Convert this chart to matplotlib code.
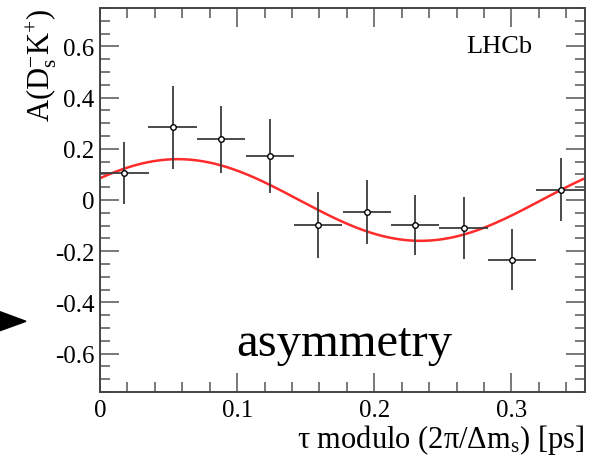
import numpy as np
import matplotlib
matplotlib.use("Agg")
import matplotlib.pyplot as plt
from matplotlib.patches import Polygon
from matplotlib.ticker import MultipleLocator

plt.rcParams['font.family'] = ['Liberation Serif', 'DejaVu Serif']
plt.rcParams['mathtext.fontset'] = 'custom'
plt.rcParams['mathtext.rm'] = 'Liberation Serif'
plt.rcParams['mathtext.it'] = 'Liberation Serif:italic'
plt.rcParams['axes.unicode_minus'] = False

# Folded decay-time asymmetry, 10 bins over one oscillation period
dm_s = 17.768                      # ps^-1
period = 2 * np.pi / dm_s          # ps
bin_centers = [0.0177, 0.0530, 0.0884, 0.1238, 0.1591,
               0.1945, 0.2298, 0.2652, 0.3005, 0.3359]
asym = [0.105, 0.285, 0.237, 0.171, -0.097,
        -0.048, -0.097, -0.110, -0.233, 0.040]
asym_err = [0.122, 0.162, 0.130, 0.145, 0.130,
            0.125, 0.117, 0.122, 0.120, 0.123]
bin_half_width = [period / 20] * 10

# Fit projection: A(t) = c_cos*cos(dm t) + c_sin*sin(dm t)
c_cos = 0.085
c_sin = 0.135

x_ticks = [0, 0.1, 0.2, 0.3]
x_ticklabels = ['0', '0.1', '0.2', '0.3']
y_ticks = [-0.6, -0.4, -0.2, 0, 0.2, 0.4, 0.6]
y_ticklabels = ['-0.6', '-0.4', '-0.2', '0', '0.2', '0.4', '0.6']

W, H = 598, 464
fig = plt.figure(figsize=(W / 100, H / 100), dpi=100)
ax = fig.add_axes([100 / W, 1 - 393 / H, 485 / W, 384 / H])

t = np.linspace(0, period, 400)
ax.plot(t, c_cos * np.cos(dm_s * t) + c_sin * np.sin(dm_s * t),
        color='#ff2a2a', lw=1.8, zorder=2)

ax.errorbar(bin_centers, asym, yerr=asym_err, xerr=bin_half_width,
            fmt='o', ms=4, mfc='white', mec='black', mew=1.0,
            ecolor='#3c3c3c', elinewidth=1.3, capsize=0, zorder=3)

ax.set_xlim(0, period)
ax.set_ylim(-0.75, 0.75)
ax.xaxis.set_minor_locator(MultipleLocator(0.02))
ax.yaxis.set_minor_locator(MultipleLocator(0.05))
ax.set_xticks(x_ticks)
ax.set_xticklabels(x_ticklabels)
ax.set_yticks(y_ticks)
ax.set_yticklabels(y_ticklabels)

ax.tick_params(which='both', direction='in', top=True, right=True,
               color='#555555', width=1.1)
ax.tick_params(which='major', length=14, labelsize=18)
ax.tick_params(axis='x', which='major', pad=5)
ax.tick_params(axis='y', which='major', pad=4)
ax.tick_params(which='minor', length=7)
for s in ax.spines.values():
    s.set_color('#444444')
    s.set_linewidth(1.4)

fig.text(585 / W, 1 - 448 / H, r'τ modulo (2π/Δm$_\mathrm{s}$) [ps]',
         fontsize=22, ha='right', va='baseline')
fig.text(42 / W, 1 - 122 / H, r'A(D$_\mathrm{s}^{-}$K$^{+}$)',
         fontsize=22, rotation=90, ha='center', va='bottom')

fig.text(499 / W, 1 - 47 / H, 'LHCb', fontsize=19, ha='center', va='center')
fig.text(236 / W, 1 - 356 / H, 'asymmetry', fontsize=35, ha='left',
         va='baseline')

arrow = Polygon([(0, 1 - 312.7 / H), (26 / W, 1 - 322.3 / H),
                 (0, 1 - 331.7 / H)], closed=True, color='black',
                transform=fig.transFigure)
fig.patches.append(arrow)

fig.savefig('out.png', dpi=100)
